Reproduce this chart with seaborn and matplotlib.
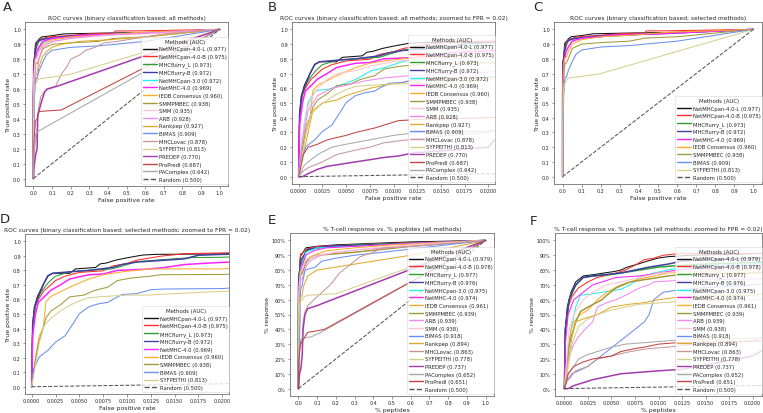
import matplotlib
matplotlib.use("Agg")
import matplotlib.pyplot as plt
import seaborn as sns

# ---------------- DATA ----------------
ROC_METHODS = ["NetMHCpan-4.0-L", "NetMHCpan-4.0-B", "MHCflurry_L", "MHCflurry-B", "NetMHCpan-3.0",
               "NetMHC-4.0", "IEDB Consensus", "SMMPMBEC", "SMM", "ARB", "Rankpep", "BIMAS",
               "MHCLovac", "SYFPEITHI", "PREDEP", "ProPredI", "PAComplex", "Random"]
ROC_AUC = [0.977, 0.975, 0.973, 0.972, 0.972, 0.969, 0.960, 0.938, 0.935, 0.928, 0.927, 0.909,
           0.878, 0.813, 0.770, 0.687, 0.642, 0.500]
SEL_METHODS = ["NetMHCpan-4.0-L", "NetMHCpan-4.0-B", "MHCflurry_L", "MHCflurry-B", "NetMHC-4.0",
               "IEDB Consensus", "SMMPMBEC", "BIMAS", "SYFPEITHI", "Random"]

TC_METHODS = ["NetMHCpan-4.0-L", "NetMHCpan-4.0-B", "MHCflurry_L", "MHCflurry-B", "NetMHCpan-3.0",
              "NetMHC-4.0", "IEDB Consensus", "SMMPMBEC", "ARB", "SMM", "BIMAS", "Rankpep",
              "MHCLovac", "SYFPEITHI", "PREDEP", "PAComplex", "ProPredI", "Random"]
TC_AUC = [0.979, 0.978, 0.977, 0.976, 0.975, 0.974, 0.961, 0.939, 0.939, 0.938, 0.918, 0.894,
          0.863, 0.778, 0.737, 0.652, 0.651, 0.500]

# ROC curves (FPR, TPR)
roc_netmhcpan40L = [(0,0),(0.0001,0.43),(0.0003,0.55),(0.0006,0.62),(0.0009,0.66),(0.0012,0.70),(0.0017,0.76),
    (0.0022,0.78),(0.004,0.78),(0.0046,0.81),(0.0067,0.82),(0.0072,0.845),(0.0078,0.85),(0.0088,0.87),
    (0.0099,0.885),(0.0116,0.905),(0.013,0.91),(0.02,0.913),(0.03,0.935),(0.045,0.95),(0.1,0.958),
    (0.16,0.97),(0.35,0.975),(0.6,0.98),(1,1)]
roc_netmhcpan40B = [(0,0),(0.0001,0.4),(0.0004,0.55),(0.0007,0.6),(0.0013,0.66),(0.002,0.70),(0.0025,0.73),
    (0.0035,0.76),(0.005,0.786),(0.0075,0.797),(0.0085,0.83),(0.01,0.848),(0.011,0.87),(0.0135,0.897),
    (0.016,0.915),(0.02,0.92),(0.03,0.93),(0.04,0.935),(0.08,0.95),(0.2,0.96),(0.3,0.97),(0.43,0.975),
    (0.44,0.99),(0.53,0.99),(1,1)]
roc_mhcflurryL = [(0,0),(0.0001,0.4),(0.0004,0.56),(0.0007,0.62),(0.0012,0.67),(0.0018,0.72),(0.0025,0.76),
    (0.004,0.79),(0.006,0.80),(0.0085,0.81),(0.01,0.84),(0.011,0.86),(0.013,0.87),(0.015,0.88),(0.017,0.888),
    (0.02,0.89),(0.03,0.92),(0.05,0.935),(0.1,0.945),(0.2,0.95),(0.35,0.96),(0.45,0.97),(0.6,0.975),(1,1)]
roc_mhcflurryB = [(0,0),(0.0001,0.42),(0.0003,0.55),(0.0006,0.6),(0.0012,0.7),(0.0017,0.763),(0.0022,0.78),
    (0.004,0.79),(0.006,0.80),(0.0085,0.82),(0.0095,0.84),(0.011,0.857),(0.014,0.87),(0.016,0.879),
    (0.0175,0.904),(0.02,0.91),(0.03,0.925),(0.05,0.935),(0.15,0.95),(0.25,0.96),(0.5,0.97),(1,1)]
roc_netmhcpan30 = [(0,0),(0.0003,0.2),(0.0006,0.35),(0.001,0.505),(0.0018,0.584),(0.0033,0.595),(0.0047,0.628),
    (0.006,0.66),(0.0077,0.72),(0.0091,0.74),(0.0109,0.78),(0.0123,0.80),(0.02,0.81),(0.03,0.87),(0.05,0.91),
    (0.1,0.94),(0.25,0.955),(0.4,0.965),(1,1)]
roc_netmhc40 = [(0,0),(0.0001,0.35),(0.0004,0.5),(0.0007,0.58),(0.0015,0.63),(0.002,0.663),(0.003,0.70),
    (0.004,0.741),(0.006,0.77),(0.0075,0.775),(0.009,0.80),(0.012,0.808),(0.014,0.82),(0.016,0.84),
    (0.018,0.848),(0.02,0.855),(0.03,0.88),(0.05,0.92),(0.1,0.94),(0.2,0.95),(0.25,0.96),(0.5,0.97),(1,1)]
roc_iedb = [(0,0),(0.0004,0.2),(0.0008,0.35),(0.0012,0.40),(0.0015,0.585),(0.002,0.62),(0.003,0.652),
    (0.0045,0.70),(0.006,0.74),(0.0075,0.77),(0.0095,0.79),(0.011,0.80),(0.0125,0.81),(0.02,0.81),
    (0.03,0.85),(0.05,0.90),(0.1,0.93),(0.2,0.95),(0.35,0.96),(0.55,0.98),(1,1)]
roc_smmpmbec = [(0,0),(0.0003,0.15),(0.0007,0.30),(0.0013,0.42),(0.0015,0.473),(0.002,0.52),(0.003,0.5625),
    (0.004,0.618),(0.0055,0.63),(0.0065,0.66),(0.008,0.685),(0.009,0.73),(0.0105,0.748),(0.0125,0.76),
    (0.0135,0.77),(0.02,0.772),(0.03,0.80),(0.05,0.87),(0.1,0.90),(0.2,0.91),(0.35,0.92),(0.43,0.94),
    (0.6,0.95),(1,1)]
roc_smm = [(0,0),(0.0003,0.25),(0.0008,0.45),(0.0015,0.55),(0.002,0.60),(0.003,0.66),(0.004,0.70),(0.006,0.72),
    (0.0075,0.75),(0.01,0.78),(0.0125,0.80),(0.02,0.81),(0.03,0.85),(0.06,0.90),(0.12,0.92),(0.2,0.94),
    (0.4,0.96),(0.6,0.97),(1,1)]
roc_arb = [(0,0),(0.0003,0.2),(0.001,0.45),(0.002,0.55),(0.0035,0.60),(0.005,0.62),(0.007,0.65),(0.009,0.67),
    (0.0125,0.69),(0.02,0.71),(0.03,0.80),(0.05,0.88),(0.1,0.92),(0.2,0.94),(0.35,0.96),(0.5,0.97),(1,1)]
roc_rankpep = [(0,0),(0.0005,0.15),(0.001,0.30),(0.0015,0.45),(0.0025,0.50),(0.004,0.52),(0.005,0.55),
    (0.0075,0.60),(0.009,0.62),(0.011,0.64),(0.013,0.66),(0.02,0.67),(0.03,0.75),(0.05,0.82),(0.07,0.85),
    (0.1,0.88),(0.15,0.90),(0.25,0.92),(0.4,0.93),(0.6,0.95),(1,1)]
roc_bimas = [(0,0),(0.0002,0.12),(0.0008,0.205),(0.0017,0.25),(0.0025,0.306),(0.0035,0.35),(0.004,0.40),
    (0.0045,0.45),(0.005,0.502),(0.006,0.55),(0.007,0.57),(0.008,0.58),(0.0085,0.60),(0.0095,0.634),
    (0.011,0.64),(0.0125,0.667),(0.014,0.672),(0.02,0.675),(0.03,0.72),(0.05,0.78),(0.07,0.83),(0.1,0.86),
    (0.2,0.88),(0.35,0.89),(0.6,0.92),(1,1)]
roc_mhclovac = [(0,0),(0.0005,0.04),(0.001,0.06),(0.0025,0.10),(0.004,0.15),(0.006,0.18),(0.0075,0.20),
    (0.009,0.23),(0.0115,0.25),(0.014,0.27),(0.02,0.30),(0.025,0.45),(0.04,0.55),(0.07,0.60),(0.12,0.62),
    (0.15,0.70),(0.18,0.75),(0.2,0.80),(0.25,0.83),(0.28,0.86),(0.33,0.88),(0.38,0.91),(0.45,0.92),
    (0.6,0.95),(0.7,0.97),(1,1)]
roc_syfpeithi = [(0,0),(0.0004,0.15),(0.0008,0.30),(0.0013,0.42),(0.002,0.47),(0.003,0.52),(0.004,0.56),
    (0.005,0.59),(0.006,0.612),(0.0075,0.62),(0.01,0.63),(0.012,0.63),(0.015,0.64),(0.02,0.656),(0.03,0.67),
    (0.1,0.68),(0.2,0.70),(1,1)]
roc_predep = [(0,0),(0.0004,0.0),(0.001,0.02),(0.002,0.05),(0.003,0.07),(0.005,0.09),(0.007,0.11),(0.009,0.13),
    (0.0105,0.14),(0.012,0.16),(0.02,0.20),(0.023,0.42),(0.04,0.50),(0.06,0.58),(0.075,0.60),(0.13,0.62),(1,1)]
roc_propredi = [(0,0),(0.0005,0.15),(0.001,0.20),(0.002,0.22),(0.003,0.25),(0.005,0.28),(0.006,0.30),
    (0.008,0.33),(0.009,0.35),(0.0105,0.38),(0.013,0.39),(0.02,0.40),(0.03,0.45),(0.15,0.46),(1,1)]
roc_pacomplex = [(0,0),(0.0005,0.07),(0.001,0.10),(0.002,0.15),(0.0035,0.20),(0.005,0.22),(0.0075,0.25),
    (0.01,0.28),(0.0125,0.30),(0.02,0.31),(0.03,0.32),(1,1)]
roc_random = [(0,0),(1,1)]

# T-cell response vs % peptides
tc_netmhcpan40L = [(0,0),(0.0001,0.4),(0.0003,0.55),(0.0007,0.65),(0.0012,0.72),(0.002,0.76),(0.0032,0.77),
    (0.0042,0.78),(0.0053,0.79),(0.006,0.80),(0.0067,0.82),(0.0078,0.84),(0.0088,0.86),(0.0099,0.88),
    (0.011,0.89),(0.0135,0.90),(0.02,0.91),(0.04,0.95),(0.1,0.96),(0.2,0.97),(0.4,0.98),(0.6,0.99),(1,1)]
tc_netmhcpan40B = [(0,0),(0.0001,0.4),(0.0004,0.55),(0.0008,0.62),(0.0015,0.68),(0.0025,0.72),(0.0035,0.75),
    (0.0055,0.78),(0.0065,0.80),(0.0077,0.84),(0.0085,0.87),(0.0095,0.88),(0.0105,0.90),(0.012,0.91),
    (0.02,0.912),(0.04,0.94),(0.1,0.96),(0.3,0.97),(0.5,0.98),(1,1)]
tc_mhcflurryL = [(0,0),(0.0001,0.4),(0.0005,0.6),(0.001,0.68),(0.0015,0.72),(0.002,0.75),(0.003,0.76),
    (0.005,0.77),(0.008,0.80),(0.01,0.82),(0.012,0.83),(0.015,0.84),(0.02,0.85),(0.04,0.93),(0.1,0.95),
    (0.3,0.97),(0.6,0.98),(1,1)]
tc_mhcflurryB = [(0,0),(0.0001,0.4),(0.0005,0.6),(0.0012,0.70),(0.002,0.75),(0.003,0.76),(0.006,0.78),
    (0.0075,0.80),(0.009,0.82),(0.011,0.84),(0.0125,0.86),(0.015,0.87),(0.02,0.88),(0.05,0.94),(0.15,0.96),
    (0.4,0.97),(1,1)]
tc_netmhcpan30 = [(0,0),(0.0003,0.2),(0.0007,0.40),(0.0012,0.55),(0.0017,0.63),(0.003,0.64),(0.005,0.66),
    (0.006,0.67),(0.007,0.70),(0.008,0.75),(0.0095,0.78),(0.011,0.80),(0.0125,0.82),(0.02,0.84),(0.04,0.92),
    (0.1,0.95),(0.3,0.96),(0.6,0.98),(1,1)]
tc_netmhc40 = [(0,0),(0.0001,0.3),(0.0004,0.50),(0.001,0.60),(0.002,0.65),(0.003,0.70),(0.004,0.72),
    (0.0055,0.75),(0.008,0.76),(0.01,0.78),(0.012,0.80),(0.015,0.82),(0.02,0.83),(0.04,0.90),(0.08,0.93),
    (0.15,0.95),(0.3,0.96),(0.6,0.98),(1,1)]
tc_iedb = [(0,0),(0.0003,0.2),(0.0007,0.40),(0.001,0.45),(0.0017,0.50),(0.0025,0.53),(0.0035,0.60),
    (0.0045,0.65),(0.006,0.70),(0.007,0.72),(0.008,0.74),(0.0095,0.76),(0.011,0.78),(0.013,0.79),(0.02,0.80),
    (0.04,0.87),(0.08,0.90),(0.15,0.93),(0.3,0.95),(0.5,0.97),(1,1)]
tc_smmpmbec = [(0,0),(0.0005,0.30),(0.0012,0.45),(0.0017,0.52),(0.0025,0.55),(0.004,0.60),(0.0045,0.63),
    (0.0055,0.68),(0.007,0.72),(0.009,0.74),(0.011,0.76),(0.0125,0.77),(0.02,0.78),(0.04,0.85),(0.06,0.88),
    (0.1,0.90),(0.3,0.92),(0.45,0.94),(0.6,0.96),(1,1)]
tc_arb = [(0,0),(0.0004,0.20),(0.001,0.30),(0.0015,0.35),(0.0022,0.40),(0.003,0.45),(0.0035,0.55),
    (0.0045,0.58),(0.0055,0.60),(0.0065,0.63),(0.008,0.68),(0.009,0.70),(0.0095,0.72),(0.012,0.73),
    (0.02,0.74),(0.04,0.82),(0.06,0.86),(0.12,0.90),(0.2,0.92),(0.35,0.94),(0.6,0.96),(1,1)]
tc_smm = [(0,0),(0.0005,0.40),(0.001,0.50),(0.002,0.60),(0.003,0.65),(0.0045,0.70),(0.006,0.72),(0.008,0.75),
    (0.01,0.78),(0.012,0.79),(0.02,0.80),(0.04,0.87),(0.1,0.90),(0.2,0.92),(0.4,0.95),(0.6,0.97),(1,1)]
tc_bimas = [(0,0),(0.0002,0.05),(0.0008,0.10),(0.0015,0.12),(0.0025,0.15),(0.0035,0.20),(0.0045,0.25),
    (0.0055,0.30),(0.0065,0.35),(0.0075,0.40),(0.0085,0.45),(0.009,0.50),(0.0095,0.60),(0.0105,0.65),
    (0.0125,0.67),(0.015,0.68),(0.02,0.70),(0.035,0.80),(0.09,0.82),(0.125,0.86),(0.2,0.88),(0.3,0.90),
    (0.45,0.92),(1,1)]
tc_rankpep = [(0,0),(0.0005,0.20),(0.0008,0.35),(0.0012,0.45),(0.002,0.47),(0.0035,0.50),(0.005,0.55),
    (0.007,0.57),(0.0085,0.58),(0.01,0.60),(0.0125,0.62),(0.02,0.63),(0.027,0.69),(0.05,0.76),(0.1,0.80),
    (0.2,0.82),(0.4,0.86),(0.65,0.91),(1,1)]
tc_mhclovac = [(0,0),(0.0003,0.05),(0.0007,0.08),(0.0012,0.12),(0.0025,0.15),(0.0035,0.20),(0.005,0.22),
    (0.007,0.25),(0.009,0.27),(0.011,0.28),(0.014,0.30),(0.02,0.32),(0.025,0.45),(0.035,0.52),(0.05,0.56),
    (0.1,0.62),(0.17,0.70),(0.22,0.78),(0.28,0.84),(0.33,0.89),(0.4,0.92),(0.45,0.95),(0.6,0.96),(1,1)]
tc_syfpeithi = [(0,0),(0.0004,0.15),(0.0008,0.30),(0.0015,0.42),(0.0025,0.47),(0.0035,0.50),(0.005,0.53),
    (0.0065,0.55),(0.008,0.57),(0.0105,0.58),(0.0125,0.59),(0.02,0.60),(0.03,0.62),(0.05,0.63),(0.2,0.64),(1,1)]
tc_predep = [(0,0),(0.0004,0.0),(0.001,0.02),(0.002,0.04),(0.003,0.06),(0.0045,0.08),(0.006,0.10),(0.008,0.11),
    (0.01,0.12),(0.0125,0.13),(0.016,0.17),(0.02,0.22),(0.025,0.40),(0.035,0.50),(0.05,0.54),(0.1,0.56),
    (0.14,0.58),(1,1)]
tc_pacomplex = [(0,0),(0.0004,0.10),(0.001,0.15),(0.0015,0.20),(0.0025,0.23),(0.004,0.26),(0.005,0.28),
    (0.0065,0.30),(0.0085,0.31),(0.0105,0.32),(0.0125,0.33),(0.02,0.34),(0.07,0.35),(0.12,0.38),(1,1)]
tc_propredi = [(0,0),(0.0004,0.10),(0.001,0.15),(0.002,0.18),(0.003,0.20),(0.005,0.22),(0.006,0.25),
    (0.0075,0.27),(0.0085,0.28),(0.01,0.30),(0.012,0.31),(0.02,0.32),(0.05,0.38),(0.1,0.39),(0.14,0.40),(1,1)]
tc_random = [(0,0),(1,1)]

ROC_CURVES = {"NetMHCpan-4.0-L": roc_netmhcpan40L, "NetMHCpan-4.0-B": roc_netmhcpan40B,
              "MHCflurry_L": roc_mhcflurryL, "MHCflurry-B": roc_mhcflurryB, "NetMHCpan-3.0": roc_netmhcpan30,
              "NetMHC-4.0": roc_netmhc40, "IEDB Consensus": roc_iedb, "SMMPMBEC": roc_smmpmbec,
              "SMM": roc_smm, "ARB": roc_arb, "Rankpep": roc_rankpep, "BIMAS": roc_bimas,
              "MHCLovac": roc_mhclovac, "SYFPEITHI": roc_syfpeithi, "PREDEP": roc_predep,
              "ProPredI": roc_propredi, "PAComplex": roc_pacomplex, "Random": roc_random}
TC_CURVES = {"NetMHCpan-4.0-L": tc_netmhcpan40L, "NetMHCpan-4.0-B": tc_netmhcpan40B,
             "MHCflurry_L": tc_mhcflurryL, "MHCflurry-B": tc_mhcflurryB, "NetMHCpan-3.0": tc_netmhcpan30,
             "NetMHC-4.0": tc_netmhc40, "IEDB Consensus": tc_iedb, "SMMPMBEC": tc_smmpmbec,
             "ARB": tc_arb, "SMM": tc_smm, "BIMAS": tc_bimas, "Rankpep": tc_rankpep,
             "MHCLovac": tc_mhclovac, "SYFPEITHI": tc_syfpeithi, "PREDEP": tc_predep,
             "PAComplex": tc_pacomplex, "ProPredI": tc_propredi, "Random": tc_random}

COLORS = {"NetMHCpan-4.0-L": "#111111", "NetMHCpan-4.0-B": "#ff2a2a", "MHCflurry_L": "#2e9e2e",
          "MHCflurry-B": "#3f3f9e", "NetMHCpan-3.0": "#22f0f0", "NetMHC-4.0": "#ff22ff",
          "IEDB Consensus": "#ffab2e", "SMMPMBEC": "#a09a3a", "SMM": "#ffc4cf", "ARB": "#f08af0",
          "Rankpep": "#deaa2c", "BIMAS": "#6a8ff0", "MHCLovac": "#c89696", "SYFPEITHI": "#d6cf8c",
          "PREDEP": "#a23cae", "ProPredI": "#c04444", "PAComplex": "#a8a8a8", "Random": "#555555"}
THICK_ROC = {"MHCflurry-B", "NetMHC-4.0", "PREDEP"}
THICK_TC = {"MHCflurry_L", "SMMPMBEC", "PREDEP", "MHCflurry-B"}

# ---------------- PLOT ----------------
sns.set_style("ticks")
plt.rcParams["font.family"] = ["DejaVu Sans"]

W, H = 763, 414
fig = plt.figure(figsize=(W / 100, H / 100), dpi=100)


def px_axes(l, r, t, b):
    return fig.add_axes([l / W, 1 - b / H, (r - l) / W, (b - t) / H])


def panel(ax, methods, aucs, curves, thick, zoom, title, xlabel, ylabel, percent):
    for m in methods:
        pts = curves[m]
        xs = [p[0] for p in pts]
        ys = [p[1] for p in pts]
        lw = 1.1 if m in thick else 0.75
        ls = "--" if m == "Random" else "-"
        sns.lineplot(x=xs, y=ys, ax=ax, color=COLORS[m], lw=lw, ls=ls, sort=False,
                     estimator=None, legend=False)
    handles = ax.get_lines()
    labels = [f"{m} ({a:.3f})" for m, a in zip(methods, aucs)]
    if zoom:
        ax.set_xlim(-zoom, 0.02 + zoom)
        ax.set_xticks([i * 0.0025 for i in range(9)])
        ax.set_xticklabels([f"{i * 0.0025:.4f}" for i in range(9)])
    else:
        ax.set_xlim(-0.045, 1.045)
        ax.set_xticks([i / 10 for i in range(11)])
        ax.set_xticklabels([f"{i / 10:.1f}" for i in range(11)])
    ax.set_ylim(-0.05, 1.05)
    ax.set_yticks([i / 10 for i in range(11)])
    if percent:
        ax.set_yticklabels([f"{i * 10}%" for i in range(11)])
    else:
        ax.set_yticklabels([f"{i / 10:.1f}" for i in range(11)])
    ax.tick_params(axis="both", labelsize=3.5, length=1.8, width=0.4, pad=1.2, color="0.3")
    for s in ax.spines.values():
        s.set_color("0.45")
        s.set_linewidth(0.6)
    ax.set_title(title, fontsize=4.25, pad=2.5)
    ax.set_xlabel(xlabel, fontsize=4.4, labelpad=1)
    ax.set_ylabel(ylabel, fontsize=4.4, labelpad=1.5)
    leg = ax.legend(handles, labels, title="Methods (AUC)", loc="lower right",
                    bbox_to_anchor=(1.0, 0.015), borderaxespad=0, fontsize=3.8,
                    title_fontsize=3.9, handlelength=2.6, handletextpad=0.35, borderpad=0.3,
                    labelspacing=0.5, framealpha=0.8, edgecolor="0.8", fancybox=True)
    leg.get_frame().set_linewidth(0.4)
    for h in leg.get_lines():
        h.set_linewidth(1.0)


axA = px_axes(25, 228, 23, 187)
panel(axA, ROC_METHODS, ROC_AUC, ROC_CURVES, THICK_ROC, None,
      "ROC curves (binary classification based; all methods)", "False positive rate", "True positive rate", False)
axB = px_axes(292, 495, 23, 185)
panel(axB, ROC_METHODS, ROC_AUC, ROC_CURVES, THICK_ROC, 0.0007,
      "ROC curves (binary classification based; all methods; zoomed to FPR = 0.02)",
      "False positive rate", "True positive rate", False)
sel_auc = [ROC_AUC[ROC_METHODS.index(m)] for m in SEL_METHODS]
axC = px_axes(554, 762, 23, 185)
panel(axC, SEL_METHODS, sel_auc, ROC_CURVES, THICK_ROC, None,
      "ROC curves (binary classification based; selected methods)", "False positive rate", "True positive rate", False)
axD = px_axes(25, 229, 235, 395)
panel(axD, SEL_METHODS, sel_auc, ROC_CURVES, THICK_ROC, 0.0007,
      "ROC curves (binary classification based; selected methods; zoomed to FPR = 0.02)",
      "False positive rate", "True positive rate", False)
axE = px_axes(290, 494, 234, 397)
panel(axE, TC_METHODS, TC_AUC, TC_CURVES, THICK_TC, None,
      "% T-cell response vs. % peptides (all methods)", "% peptides", "% response", True)
axF = px_axes(555, 762, 234, 397)
panel(axF, TC_METHODS, TC_AUC, TC_CURVES, THICK_TC, 0.001,
      "% T-cell response vs. % peptides (all methods; zoomed to FPR = 0.02)", "% peptides", "% response", True)

for letter, x, y in [("A", 3, 1), ("B", 268, 1), ("C", 533, 1), ("D", 0, 213), ("E", 268, 214), ("F", 530, 215)]:
    fig.text(x / W, 1 - y / H, letter, fontsize=9.5, va="top", ha="left")

fig.savefig("out.png", dpi=100)
